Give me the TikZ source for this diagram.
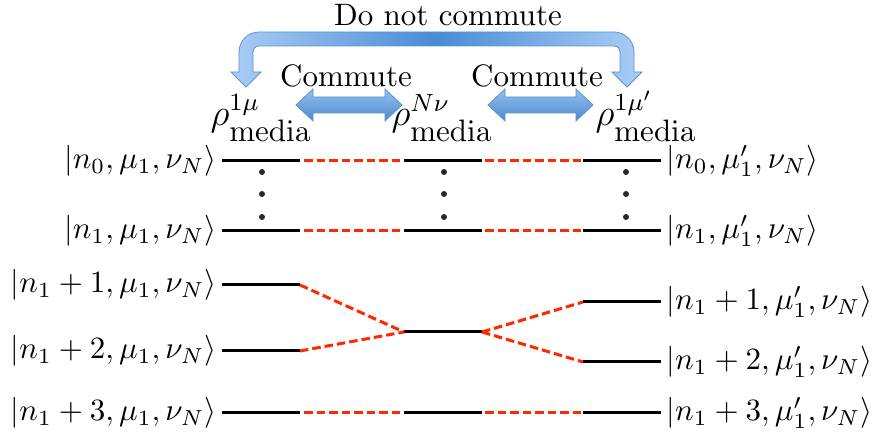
\documentclass[tikz,border=0pt]{standalone}
\definecolor{redd}{RGB}{255,40,0}
\definecolor{lightb}{RGB}{170,205,246}
\definecolor{darkb}{RGB}{72,140,212}
\definecolor{edgeb}{RGB}{95,145,205}
\definecolor{dtop}{RGB}{150,192,238}
\definecolor{dbot}{RGB}{75,138,208}
\definecolor{dotc}{RGB}{40,40,40}
\newcommand{\bigrho}{\mbox{\fontsize{12}{14}\selectfont$\rho$}}
\newcommand{\rholab}[1]{$\bigrho^{\raisebox{1pt}{\fontsize{8}{9}\selectfont$#1$}}_{\raisebox{1pt}{$\mathrm{media}$}}$}
\begin{document}
\begin{tikzpicture}[x=1pt,y=-1pt,
  level/.style={line width=3pt, black},
  link/.style={line width=3pt, redd, dash pattern=on 8.5pt off 4pt},
  lbl/.style={inner sep=0pt, font=\fontsize{10}{12}\selectfont, scale=3.1},
  vdot/.style={circle, fill=dotc, inner sep=0pt, minimum size=6pt},
  bigarrow/.style={draw=edgeb, line width=0.8pt, left color=lightb, right color=lightb, middle color=darkb},
  dblarrow/.style={draw=edgeb, line width=0.8pt, top color=dtop, bottom color=dbot}
]
\useasboundingbox (0,0) rectangle (876,435);

% top labels
\node[lbl, anchor=base] (dnc) at (448,26) {Do not commute};
\node[lbl, anchor=base] (c1) at (346,87) {Commute};
\node[lbl, anchor=base] (c2) at (537,87) {Commute};
\node[lbl, anchor=base west] (rho1) at (210,126) {\rholab{1\mu}};
\node[lbl, anchor=base west] (rho2) at (391,126) {\rholab{N\nu}};
\node[lbl, anchor=base west] (rho3) at (595,126) {\rholab{1\mu'}};

% big bent arrow
\path[bigarrow] (246,87) -- (231,72) -- (239,72) -- (239,52)
  arc[start angle=180, end angle=270, radius=20] -- (614,32)
  arc[start angle=270, end angle=360, radius=20] -- (634,72) -- (642,72) -- (627,87)
  -- (612,72) -- (620,72) -- (620,52)
  arc[start angle=0, end angle=-90, radius=6] -- (259,46)
  arc[start angle=270, end angle=180, radius=6] -- (253,72) -- (261,72) -- cycle;

% double arrows
\path[dblarrow] (296,105) -- (313,89) -- (313,97) -- (385,97) -- (385,89) -- (402,105)
  -- (385,121) -- (385,113) -- (313,113) -- (313,121) -- cycle;
\path[dblarrow] (488,105) -- (505,89) -- (505,97) -- (576,97) -- (576,89) -- (593,105)
  -- (576,121) -- (576,113) -- (505,113) -- (505,121) -- cycle;

% level coordinates
\foreach \r/\y in {0/161,1/231,4/413}{
  \coordinate (La\r) at (222,\y); \coordinate (Lb\r) at (300,\y);
  \coordinate (Ma\r) at (404,\y); \coordinate (Mb\r) at (482,\y);
  \coordinate (Ra\r) at (583,\y); \coordinate (Rb\r) at (661,\y);
  \coordinate (Ls\r) at (304,\y); \coordinate (Ms\r) at (485,\y);
}
\coordinate (La2) at (222,285); \coordinate (Lb2) at (300,285);
\coordinate (La3) at (222,351); \coordinate (Lb3) at (300,351);
\coordinate (Ma) at (404,332); \coordinate (Mb) at (482,332);
\coordinate (Ra2) at (583,302); \coordinate (Rb2) at (661,302);
\coordinate (Ra3) at (583,362); \coordinate (Rb3) at (661,362);

% levels
\foreach \r in {0,1,4}{
  \draw[level] (La\r) -- (Lb\r);
  \draw[level] (Ma\r) -- (Mb\r);
  \draw[level] (Ra\r) -- (Rb\r);
  \draw[link] (Ls\r) -- (Ma\r);
  \draw[link] (Ms\r) -- (Ra\r);
}
\draw[level] (La2) -- (Lb2);
\draw[level] (La3) -- (Lb3);
\draw[level] (Ma) -- (Mb);
\draw[level] (Ra2) -- (Rb2);
\draw[level] (Ra3) -- (Rb3);
\draw[link] (Lb2) -- (Ma);
\draw[link] (Lb3) -- (Ma);
\draw[link] (Mb) -- (Ra2);
\draw[link] (Mb) -- (Ra3);

% vertical dots
\foreach \x/\n in {262/a,444/b,626/c}{
  \node[vdot] (d1\n) at (\x,172) {};
  \node[vdot] (d2\n) at (\x,194) {};
  \node[vdot] (d3\n) at (\x,217) {};
}

% left labels
\node[lbl, anchor=east] (l0) at (217,161) {$|n_0,\mu_1,\nu_N\rangle$};
\node[lbl, anchor=east] (l1) at (217,231) {$|n_1,\mu_1,\nu_N\rangle$};
\node[lbl, anchor=east] (l2) at (217,285) {$|n_1+1,\mu_1,\nu_N\rangle$};
\node[lbl, anchor=east] (l3) at (217,351) {$|n_1+2,\mu_1,\nu_N\rangle$};
\node[lbl, anchor=east] (l4) at (217,413) {$|n_1+3,\mu_1,\nu_N\rangle$};
% right labels
\node[lbl, anchor=west] (r0) at (666,161) {$|n_0,\mu_1',\nu_N\rangle$};
\node[lbl, anchor=west] (r1) at (666,231) {$|n_1,\mu_1',\nu_N\rangle$};
\node[lbl, anchor=west] (r2) at (666,302) {$|n_1+1,\mu_1',\nu_N\rangle$};
\node[lbl, anchor=west] (r3) at (666,362) {$|n_1+2,\mu_1',\nu_N\rangle$};
\node[lbl, anchor=west] (r4) at (666,413) {$|n_1+3,\mu_1',\nu_N\rangle$};
\end{tikzpicture}
\end{document}
